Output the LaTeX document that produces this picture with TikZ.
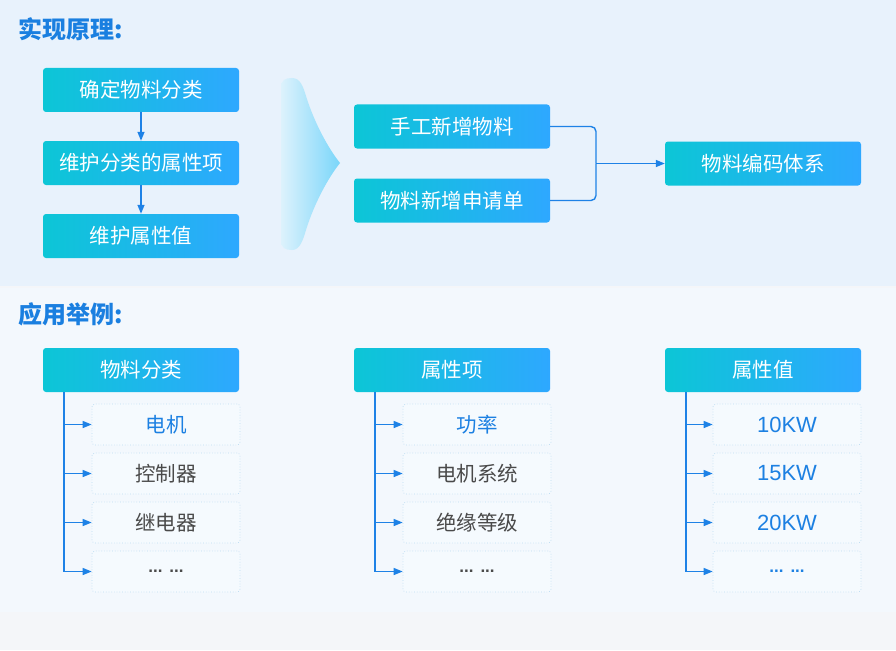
\documentclass[tikz,border=0pt]{standalone}
\usepackage{fontspec}
\setmainfont{Noto Sans CJK SC}
\newfontfamily\latinf{Liberation Sans}
\usetikzlibrary{arrows.meta}
\definecolor{topbg}{HTML}{E8F2FC}
\definecolor{lowbg}{HTML}{F3F8FD}
\definecolor{botbg}{HTML}{F4F6F9}
\definecolor{ttl}{HTML}{1A7FE0}
\definecolor{lin}{HTML}{1E82E6}
\definecolor{gA}{HTML}{0CC6D6}
\definecolor{gB}{HTML}{00CCFC}
\definecolor{gC}{HTML}{2EA8FF}
\definecolor{itbd}{HTML}{BCDDF2}
\definecolor{itfill}{HTML}{F5FAFE}
\definecolor{gtxt}{HTML}{4A4A4A}
\definecolor{btxt}{HTML}{1C80E2}
\definecolor{fA}{HTML}{DDF2FC}
\definecolor{fB}{HTML}{7AD6FA}
\tikzset{
  gbox/.style={rounded corners=3pt, left color=gA, middle color=gB, right color=gC,
    minimum width=196pt, minimum height=44pt, inner sep=0pt, text=white, font=\fontsize{20.5}{20.5}\selectfont},
  itembox/.style={rounded corners=3pt, draw=itbd, dotted, line width=0.7pt, fill=itfill,
    minimum width=148pt, minimum height=41pt, inner sep=0pt, font=\fontsize{20.5}{20.5}\selectfont},
  conn/.style={draw=lin, line width=1.4pt},
  arr/.style={conn, -{Triangle[length=9pt,width=7pt]}},
  ttlstyle/.style={text=ttl, font=\fontsize{24}{24}\selectfont\bfseries, anchor=west, inner sep=0pt}
}
\newcommand\dotsgap{{\latinf\bfseries\fontsize{17}{17}\selectfont ...\hspace{7pt}...}}
\newcommand\kw[1]{{\latinf\fontsize{22}{22}\selectfont #1}}
\begin{document}
\begin{tikzpicture}[x=1pt,y=-1pt]
\useasboundingbox (0,0) rectangle (896,650);
\fill[botbg] (0,0) rectangle (896,650);
\fill[topbg] (0,0) rectangle (896,286);
\fill[lowbg] (0,288) rectangle (896,612);
% titles
\node[ttlstyle] (t1) at (18,29) {实现原理:};
\node[ttlstyle] (t2) at (18,314) {应用举例:};
% left steps
\node[gbox] (s1) at (141,90) {确定物料分类};
\node[gbox] (s2) at (141,163) {维护分类的属性项};
\node[gbox] (s3) at (141,236) {维护属性值};
\draw[arr] (s1) -- (s2);
\draw[arr] (s2) -- (s3);
% funnel
\shade[left color=fA, right color=fB]
  (281,88) .. controls (281,80) and (285,78) .. (292,78)
  .. controls (300,78) and (303,86) .. (306,96)
  .. controls (314,122) and (328,148) .. (340,163)
  .. controls (328,178) and (314,204) .. (306,230)
  .. controls (303,240) and (300,250) .. (292,250)
  .. controls (285,250) and (281,248) .. (281,240) -- cycle;
% middle
\node[gbox] (m1) at (452,126.5) {手工新增物料};
\node[gbox] (m2) at (452,200.5) {物料新增申请单};
\node[gbox, minimum width=196pt] (r1) at (763,163.5) {物料编码体系};
\coordinate (j) at (596,163.5);
\draw[conn, rounded corners=5pt] (m1.east) -| (j);
\draw[conn, rounded corners=5pt] (m2.east) -| (j);
\draw[arr] (j) -- (r1.west);
% lower columns
\foreach \c/\hx/\vx/\ix/\ha/\ia/\ib/\ic/\id/\ca/\cb/\cc/\cd in {
  1/141/64/166/物料分类/电机/控制器/继电器/\dotsgap/btxt/gtxt/gtxt/gtxt,
  2/452/375/477/属性项/功率/电机系统/绝缘等级/\dotsgap/btxt/gtxt/gtxt/gtxt,
  3/763/686/787/属性值/\kw{10KW}/\kw{15KW}/\kw{20KW}/\dotsgap/btxt/btxt/btxt/btxt}{
  \node[gbox] (h\c) at (\hx,370) {\ha};
  \node[itembox, text=\ca] (i\c a) at (\ix,424.5) {\ia};
  \node[itembox, text=\cb] (i\c b) at (\ix,473.5) {\ib};
  \node[itembox, text=\cc] (i\c c) at (\ix,522.5) {\ic};
  \node[itembox, text=\cd] (i\c d) at (\ix,571.5) {\id};
  \coordinate (v\c) at (\vx,392);
  \draw[arr] (v\c) |- (i\c d.west);
  \draw[arr] (v\c |- i\c a.west) -- (i\c a.west);
  \draw[arr] (v\c |- i\c b.west) -- (i\c b.west);
  \draw[arr] (v\c |- i\c c.west) -- (i\c c.west);
}
\end{tikzpicture}
\end{document}
